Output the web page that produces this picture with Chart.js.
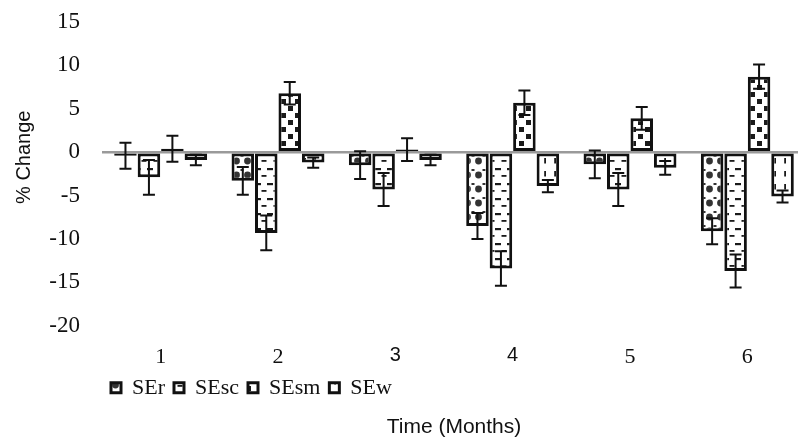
<!DOCTYPE html>
<html>
<head>
<meta charset="utf-8">
<script src="https://cdn.jsdelivr.net/npm/chart.js@4"></script>
<style>
  html, body { margin: 0; padding: 0; background: #fff; overflow: hidden; }
  #wrap { width: 808px; height: 443px; }
</style>
</head>
<body>
<div id="wrap"><canvas id="changeChart"></canvas></div>
<script>
const months = ["1", "2", "3", "4", "5", "6"];
const seriesNames = ["SEr", "SEsc", "SEsm", "SEw"];

const serValues = [-0.4, -3.3, -1.5, -8.5, -1.4, -9.1];
const serErrors = [1.5, 1.6, 1.6, 1.5, 1.6, 1.5];
const sescValues = [-2.9, -9.3, -4.3, -13.4, -4.3, -13.7];
const sescErrors = [2.0, 2.0, 1.9, 2.0, 1.9, 1.9];
const sesmValues = [0.4, 6.8, 0.3, 5.7, 3.9, 8.7];
const sesmErrors = [1.5, 1.3, 1.3, 1.4, 1.3, 1.4];
const sewValues = [-0.9, -1.2, -0.9, -3.9, -1.8, -5.1];
const sewErrors = [0.6, 0.6, 0.6, 0.7, 0.8, 0.7];

const yTicks = [15, 10, 5, 0, -5, -10, -15, -20];

const SERIF = "'Liberation Serif', 'Times New Roman', serif";
const SANS = "'Liberation Sans', Arial, sans-serif";
const INK = "#111";

// small tiles used as bar fills
function makePattern(w, h, draw) {
  const tile = document.createElement("canvas");
  tile.width = w;
  tile.height = h;
  const g = tile.getContext("2d");
  g.fillStyle = "#fff";
  g.fillRect(0, 0, w, h);
  draw(g);
  return g.createPattern(tile, "repeat");
}

const dotFill = makePattern(11, 14, g => {
  g.fillStyle = "#333";
  g.beginPath();
  g.arc(5.5, 7, 3.4, 0, Math.PI * 2);
  g.fill();
  g.fillRect(0, 1, 1.5, 2);
  g.fillRect(9.5, 1, 1.5, 2);
});

const dashFill = makePattern(12, 15, g => {
  g.fillStyle = "#1a1a1a";
  g.fillRect(3, 3, 6, 2.2);
  g.fillRect(0, 10, 2.5, 1.8);
  g.fillRect(9.5, 10, 2.5, 1.8);
});

const checkFill = makePattern(14, 14, g => {
  g.fillStyle = "#1a1a1a";
  g.fillRect(1, 1, 5, 5);
  g.fillRect(8, 8, 5, 5);
});

const vdashFill = makePattern(10, 13, g => {
  g.fillStyle = "#1a1a1a";
  g.fillRect(4.2, 2, 1.8, 5.5);
});

const seriesValues = [serValues, sescValues, sesmValues, sewValues];
const seriesErrors = [serErrors, sescErrors, sesmErrors, sewErrors];
const fills = [dotFill, dashFill, checkFill, vdashFill];

// symmetric error bars with caps, placed on the bars the library laid out
const errorBars = {
  id: "errorBars",
  afterDatasetsDraw(chart) {
    const { ctx, scales: { y } } = chart;
    ctx.save();
    ctx.strokeStyle = INK;
    ctx.lineWidth = 2;
    chart.data.datasets.forEach((ds, i) => {
      const meta = chart.getDatasetMeta(i);
      meta.data.forEach((bar, j) => {
        const v = seriesValues[i][j];
        const e = seriesErrors[i][j];
        const top = y.getPixelForValue(v + e);
        const bottom = y.getPixelForValue(v - e);
        const half = 6;
        ctx.beginPath();
        ctx.moveTo(bar.x, top);
        ctx.lineTo(bar.x, bottom);
        ctx.moveTo(bar.x - half, top);
        ctx.lineTo(bar.x + half, top);
        ctx.moveTo(bar.x - half, bottom);
        ctx.lineTo(bar.x + half, bottom);
        ctx.stroke();
      });
    });
    ctx.restore();
  }
};

const ctx = document.getElementById("changeChart").getContext("2d");
new Chart(ctx, {
  type: "bar",
  data: {
    labels: months,
    datasets: seriesNames.map((name, i) => ({
      label: name,
      data: seriesValues[i],
      backgroundColor: fills[i],
      borderColor: INK,
      borderWidth: 3,
      borderSkipped: false,
      categoryPercentage: 0.8,
      barPercentage: 0.96
    }))
  },
  options: {
    responsive: true,
    maintainAspectRatio: false,
    animation: false,
    layout: { padding: { top: 0, left: 4, right: 2, bottom: 0 } },
    plugins: {
      legend: {
        position: "bottom",
        align: "start",
        fullSize: false,
        labels: {
          boxWidth: 10,
          boxHeight: 10,
          padding: 9,
          color: INK,
          font: { family: SERIF, size: 22 }
        }
      },
      title: {
        display: true,
        position: "bottom",
        fullSize: false,
        text: "Time (Months)",
        color: INK,
        font: { family: SANS, size: 21, weight: "normal" },
        padding: { top: 6, bottom: 3 }
      },
      tooltip: { enabled: false }
    },
    scales: {
      x: {
        grid: { display: false, drawTicks: false },
        border: { display: false },
        ticks: {
          padding: 18,
          color: INK,
          font: c => ({
            family: c.index === 2 || c.index === 3 ? SANS : SERIF,
            size: c.index === 2 || c.index === 3 ? 20 : 22
          })
        },
        afterFit(scale) { scale.height = 42; }
      },
      y: {
        min: -20,
        max: 15,
        afterBuildTicks(scale) {
          scale.ticks = yTicks.map(v => ({ value: v }));
        },
        grid: {
          drawTicks: false,
          color: c => (c.tick && c.tick.value === 0 ? "#9a9a9a" : "rgba(0,0,0,0)"),
          lineWidth: c => (c.tick && c.tick.value === 0 ? 2.5 : 0)
        },
        border: { display: false },
        ticks: {
          padding: 22,
          color: INK,
          font: { family: SERIF, size: 23 }
        },
        title: {
          display: true,
          // leading spaces lift the label toward the zero line, as in the original
          text: "      % Change",
          color: INK,
          font: { family: SANS, size: 20 },
          padding: { top: 8, bottom: 0 }
        },
        afterFit(scale) {
          scale.width = 98;
          scale.paddingTop = 22;
          scale.paddingBottom = 14;
        }
      }
    }
  },
  plugins: [errorBars]
});
</script>
</body>
</html>
